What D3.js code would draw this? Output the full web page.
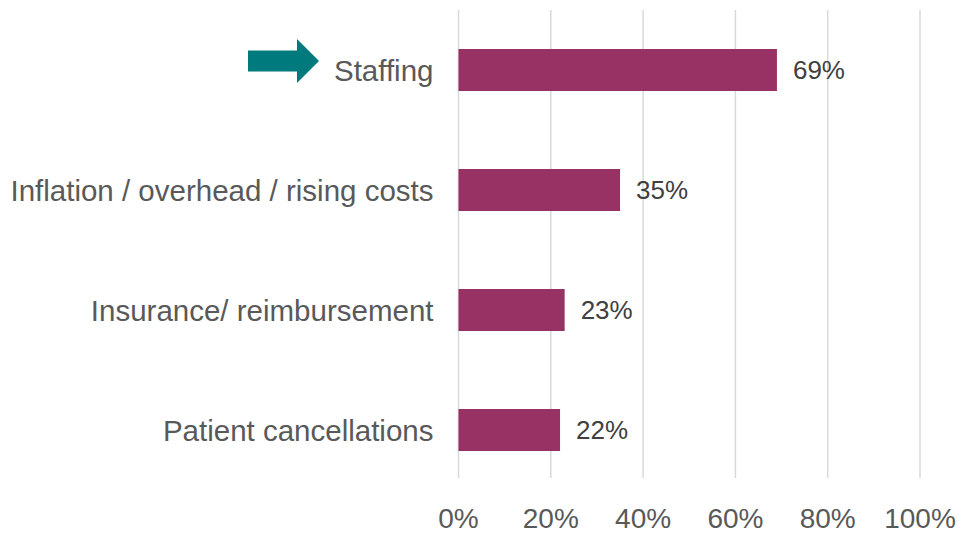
<!DOCTYPE html>
<html>
  <head>
    <meta charset="utf-8">
    <title>Challenges</title>
    <script src="https://d3js.org/d3.v7.min.js"></script>
    <style>
      body { margin: 0; background: #fff; }
      .chart { font-family: "Liberation Sans", Arial, sans-serif; }
      .grid line { stroke: #d9d9d9; stroke-width: 1.5; }
      .bar { fill: #983264; }
      .cat-label { fill: #595959; font-size: 29.5px; }
      .val-label { fill: #404040; font-size: 26px; }
      .tick-label { fill: #595959; font-size: 28px; }
    </style>
  </head>
  <body>
    <svg class="chart"></svg>
    <script>
      // Data
      const categories = ["Staffing", "Inflation / overhead / rising costs", "Insurance/ reimbursement", "Patient cancellations"];
      const values = [0.69, 0.35, 0.23, 0.22];
      const ticks = [0, 0.2, 0.4, 0.6, 0.8, 1.0];
      const highlighted = "Staffing";

      const width = 959, height = 535;

      const svg = d3.select(".chart")
        .attr("width", width)
        .attr("height", height);

      // Scales
      const x = d3.scaleLinear().domain([0, 1]).range([458.5, 920]);
      const y = d3.scaleBand()
        .domain(categories)
        .range([10, 490])
        .paddingInner(0.65)
        .paddingOuter(0.325);

      // Gridlines
      svg.append("g").attr("class", "grid")
        .selectAll("line")
        .data(ticks)
        .enter().append("line")
        .attr("x1", d => x(d)).attr("x2", d => x(d))
        .attr("y1", 10).attr("y2", 478);

      // Bars
      const data = categories.map((c, i) => ({ cat: c, val: values[i] }));
      svg.selectAll(".bar")
        .data(data)
        .enter().append("rect")
        .attr("class", "bar")
        .attr("x", x(0))
        .attr("y", d => y(d.cat))
        .attr("width", d => x(d.val) - x(0))
        .attr("height", y.bandwidth());

      // Value labels
      svg.selectAll(".val-label")
        .data(data)
        .enter().append("text")
        .attr("class", "val-label")
        .attr("x", d => x(d.val) + 16)
        .attr("y", d => y(d.cat) + y.bandwidth() / 2)
        .attr("dy", "0.36em")
        .text(d => d3.format(".0%")(d.val));

      // Category labels
      svg.selectAll(".cat-label")
        .data(categories)
        .enter().append("text")
        .attr("class", "cat-label")
        .attr("x", x(0) - 25)
        .attr("y", d => y(d) + y.bandwidth() / 2)
        .attr("dy", "0.36em")
        .attr("text-anchor", "end")
        .text(d => d);

      // Tick labels
      svg.selectAll(".tick-label")
        .data(ticks)
        .enter().append("text")
        .attr("class", "tick-label")
        .attr("x", d => x(d))
        .attr("y", 528)
        .attr("text-anchor", "middle")
        .text(d => d3.format(".0%")(d));

      // Arrow pointing at the highlighted category
      const ay = y(highlighted) + y.bandwidth() / 2 - 9;
      svg.append("path")
        .attr("fill", "#007a7d")
        .attr("d", `M248,${ay - 10.5} L297,${ay - 10.5} L297,${ay - 22} L319,${ay} L297,${ay + 22} L297,${ay + 10.5} L248,${ay + 10.5} Z`);
    </script>
  </body>
</html>
